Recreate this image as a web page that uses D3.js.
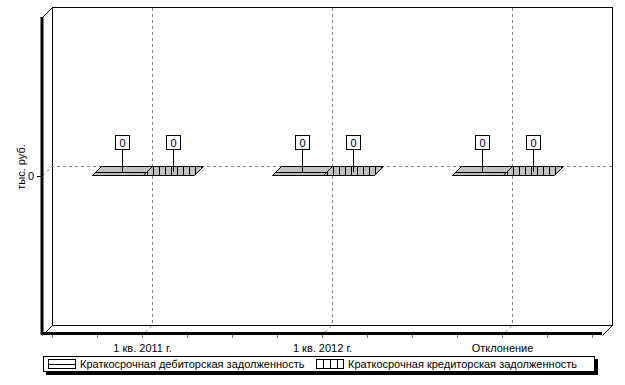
<!DOCTYPE html>
<html>
<head>
<meta charset="utf-8">
<script src="https://cdn.jsdelivr.net/npm/d3@7"></script>
<style>
  body { margin: 0; background: #fff; }
  text { font-family: "Liberation Sans", Arial, sans-serif; font-size: 11px; fill: #000; }
  .tick text { font-family: "Liberation Sans", Arial, sans-serif; font-size: 11px; }
</style>
</head>
<body>
<svg id="chart" width="625" height="385"></svg>
<script>
(function() {

  var categories = ['1 кв. 2011 г.', '1 кв. 2012 г.', 'Отклонение'];
  var seriesNames = ['Краткосрочная дебиторская задолженность', 'Краткосрочная кредиторская задолженность'];
  var debit = [0, 0, 0];
  var credit = [0, 0, 0];
  var yTicks = [0];
  var yTitle = 'тыс. руб.';

  var series = [debit, credit];
  var wall = { left: 52, right: 612, top: 7, bottom: 325 };
  var depth = 10,      // wall depth
      barDepth = 9,
      barWidth = 51;

  var svg = d3.select('#chart');

  var x = d3.scalePoint()
    .domain(categories)
    .range([wall.left, wall.right])
    .padding(0.5556);

  var y = d3.scaleLinear()
    .domain([-1, 1])
    .range([wall.bottom, wall.top]);

  var defs = svg.append('defs');
  addPattern('hlines', '#c0c0c0', 'M0,4.5H6');
  addPattern('vlines', '#c0c0c0', 'M3.5,0V6');

  // back wall
  svg.append('rect')
    .attr('x', wall.left + 0.5)
    .attr('y', wall.top + 0.5)
    .attr('width', wall.right - wall.left)
    .attr('height', wall.bottom - wall.top)
    .attr('fill', '#fff')
    .attr('stroke', '#000');

  // grid on back wall + floor / side continuation
  var grid = svg.append('g')
    .attr('stroke', '#808080')
    .attr('stroke-dasharray', '3,3')
    .attr('fill', 'none');

  categories.forEach(function(c) {
    var gx = Math.round(x(c)) + 0.5;
    grid.append('path')
      .attr('d', 'M' + gx + ',' + (wall.top + 1) + 'V' + wall.bottom +
                 'L' + (gx - depth) + ',' + (wall.bottom + depth));
  });

  yTicks.forEach(function(t) {
    var gy = Math.round(y(t)) + 0.5;
    grid.append('path')
      .attr('d', 'M' + (wall.right) + ',' + gy + 'H' + wall.left +
                 'L' + (wall.left - depth) + ',' + (gy + depth));
  });

  // floor and left side edges
  svg.append('path')
    .attr('d', 'M' + (wall.left + 0.5) + ',' + (wall.bottom + 0.5) +
               'L' + (wall.left - depth + 0.5) + ',' + (wall.bottom + depth + 0.5) +
               'M' + (wall.left + 0.5) + ',' + (wall.top + 0.5) +
               'L' + (wall.left - depth + 0.5) + ',' + (wall.top + depth + 0.5) +
               'M' + (wall.right + 0.5) + ',' + (wall.bottom + 0.5) +
               'L' + (wall.right - depth + 0.5) + ',' + (wall.bottom + depth + 0.5))
    .attr('stroke', '#000')
    .attr('fill', 'none');

  svg.append('path')
    .attr('d', 'M' + (wall.left - depth) + ',' + (wall.top + depth) +
               'V' + (wall.bottom + depth - 1.5) +
               'H' + (wall.right - depth))
    .attr('stroke', '#000')
    .attr('stroke-width', 3)
    .attr('fill', 'none');

  // bars (3D)
  var bars = svg.append('g');
  series.forEach(function(vals, s) {
    vals.forEach(function(v, i) {
      var bx = Math.round(x(categories[i])) - barWidth + s * barWidth;
      var top = y(Math.max(v, 0)), base = y(Math.min(v, 0));
      var g = bars.append('g')
        .attr('stroke', '#000')
        .attr('fill', 'url(#' + (s === 0 ? 'hlines' : 'vlines') + ')');
      // front and side faces, only when the bar has height
      if (base > top) {
        g.append('path').attr('d', poly([
          [bx + barWidth, top], [bx + barWidth, base],
          [bx + barWidth - barDepth, base + barDepth], [bx + barWidth - barDepth, top + barDepth]]));
        g.append('rect')
          .attr('x', bx - barDepth + 0.5)
          .attr('y', top + barDepth + 0.5)
          .attr('width', barWidth)
          .attr('height', base - top);
      }
      // top face
      g.append('path').attr('d', poly([
        [bx, top], [bx + barWidth, top],
        [bx + barWidth - barDepth, top + barDepth], [bx - barDepth, top + barDepth]]));

      // value label
      var lx = Math.round(bx + barWidth / 2 - barDepth / 2) + 0.5;
      var ly = top + 6;
      var lab = bars.append('g');
      lab.append('line')
        .attr('x1', lx).attr('x2', lx)
        .attr('y1', ly - 22).attr('y2', ly)
        .attr('stroke', '#000');
      lab.append('rect')
        .attr('x', lx - 7).attr('y', ly - 36.5)
        .attr('width', 14).attr('height', 14)
        .attr('fill', '#fff').attr('stroke', '#000');
      lab.append('text')
        .attr('x', lx).attr('y', ly - 25.5)
        .attr('text-anchor', 'middle')
        .text(d3.format('d')(v));
    });
  });

  // x axis (front)
  var xFront = x.copy().range([wall.left - depth, wall.right - depth]);
  var xAxis = svg.append('g')
    .attr('transform', 'translate(0,' + (wall.bottom + depth) + ')')
    .call(d3.axisBottom(xFront).tickSize(3).tickPadding(6));
  xAxis.select('.domain').remove();

  var step = x.step() / 4;
  var minor = d3.range(-2, 11).map(function(k) { return xFront(categories[0]) + k * step; })
    .filter(function(v) { return v <= wall.right - depth; });
  svg.append('g').selectAll('line')
    .data(minor)
    .join('line')
    .attr('x1', function(d) { return Math.round(d) + 0.5; })
    .attr('x2', function(d) { return Math.round(d) + 0.5; })
    .attr('y1', wall.bottom + depth)
    .attr('y2', wall.bottom + depth + 3)
    .attr('stroke', '#808080');

  // y axis (front)
  var yFront = y.copy().range([wall.bottom + depth, wall.top + depth]);
  var yAxis = svg.append('g')
    .attr('transform', 'translate(' + (wall.left - depth - 1) + ',0)')
    .call(d3.axisLeft(yFront).tickValues(yTicks).tickFormat(d3.format('d'))
      .tickSize(4).tickPadding(3));
  yAxis.select('.domain').remove();

  svg.append('text')
    .attr('transform', 'translate(21,167) rotate(-90)')
    .attr('text-anchor', 'middle')
    .attr('dy', '0.35em')
    .text(yTitle);

  // legend
  var legend = svg.append('g');
  legend.append('rect')
    .attr('x', 46).attr('y', 359)
    .attr('width', 552).attr('height', 16)
    .attr('fill', '#000');
  legend.append('rect')
    .attr('x', 43.5).attr('y', 356.5)
    .attr('width', 551).attr('height', 15)
    .attr('fill', '#fff').attr('stroke', '#000');

  var items = [{ x: 48, name: seriesNames[0], type: 'h' },
               { x: 316, name: seriesNames[1], type: 'v' }];
  items.forEach(function(it) {
    legend.append('rect')
      .attr('x', it.x + 0.5).attr('y', 359.5)
      .attr('width', 27).attr('height', 9)
      .attr('fill', '#fff').attr('stroke', '#000');
    if (it.type === 'h') {
      legend.append('line')
        .attr('x1', it.x).attr('x2', it.x + 27)
        .attr('y1', 364.5).attr('y2', 364.5)
        .attr('stroke', '#000');
    } else {
      [7, 14, 21].forEach(function(dx) {
        legend.append('line')
          .attr('x1', it.x + dx + 0.5).attr('x2', it.x + dx + 0.5)
          .attr('y1', 360).attr('y2', 368)
          .attr('stroke', '#000');
      });
    }
    legend.append('text')
      .attr('x', it.x + 32).attr('y', 364)
      .attr('dy', '0.35em')
      .text(it.name);
  });

  function poly(pts) {
    return 'M' + pts.map(function(p) { return (p[0] + 0.5) + ',' + (p[1] + 0.5); }).join('L') + 'Z';
  }

  function addPattern(id, bg, d) {
    var p = defs.append('pattern')
      .attr('id', id)
      .attr('patternUnits', 'userSpaceOnUse')
      .attr('width', 6).attr('height', 6);
    p.append('rect').attr('width', 6).attr('height', 6).attr('fill', bg);
    p.append('path').attr('d', d).attr('stroke', '#000').attr('stroke-width', 1);
  }
})();
</script>
</body>
</html>
